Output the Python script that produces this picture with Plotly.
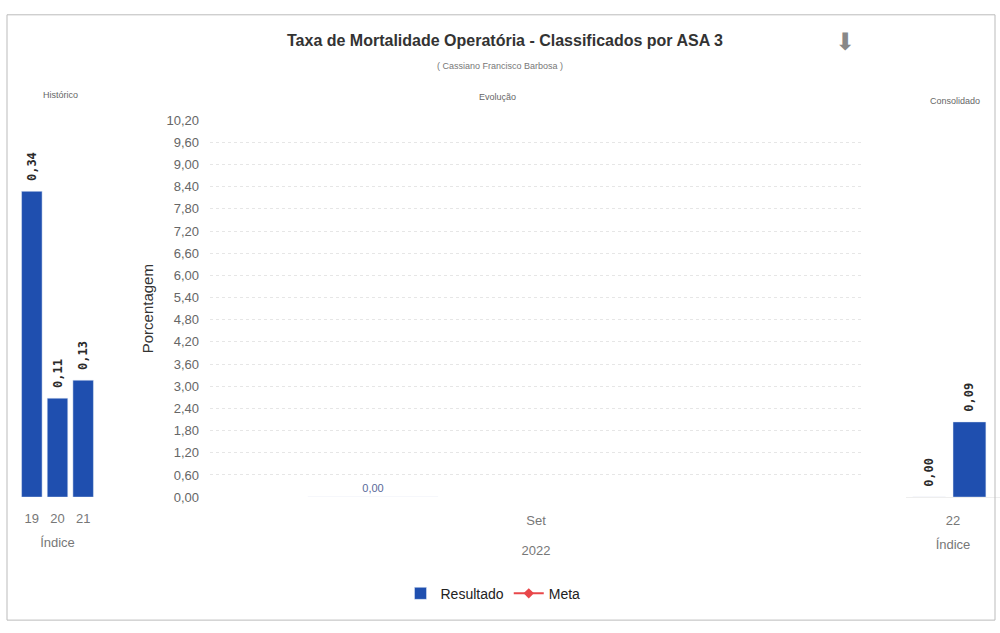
import plotly.graph_objects as go

# ---- data ----
hist_idx = ["19", "20", "21"]
hist_vals = [0.34, 0.11, 0.13]

evol_month = ["Set"]
evol_result = [0.00]
evol_meta = [None]

cons_idx = ["22"]
cons_first = [0.00]
cons_second = [0.09]

yticks = [round(0.6 * i, 2) for i in range(18)]

BLUE = "#1f4faf"
RED = "#e8474a"
GREY = "#777777"
NARROW = "Liberation Sans Narrow, Liberation Sans, Arial"
LABELF = dict(family="DejaVu Sans Mono", size=12, color="#2a2a2a")
LABEL_TPL = "\u00a0<b>%{y:.2f}</b>"

H = 633
TOP = 0

def py(p):
    return 1 - (p - TOP) / H

fig = go.Figure()

# Histórico
fig.add_trace(go.Bar(
    x=hist_idx, y=hist_vals, xaxis="x", yaxis="y", marker_color=BLUE,
    width=0.8, texttemplate=LABEL_TPL, textposition="outside",
    textangle=-90, textfont=LABELF, constraintext="none", cliponaxis=False,
    showlegend=False, hoverinfo="skip"))

# Evolução
fig.add_trace(go.Bar(
    x=evol_month, y=evol_result, xaxis="x2", yaxis="y2", marker_color=BLUE,
    name="Resultado", offset=-0.35, width=0.2, texttemplate="%{y:.2f}",
    textposition="outside", textfont=dict(family=NARROW, size=11, color="#5a6a9a"),
    constraintext="none", cliponaxis=False))
fig.add_trace(go.Scatter(
    x=evol_month, y=evol_meta, xaxis="x2", yaxis="y2", name="Meta",
    mode="lines+markers", line=dict(color=RED, width=2),
    marker=dict(color=RED, symbol="diamond", size=8)))

# Consolidado
fig.add_trace(go.Bar(
    x=cons_idx, y=cons_first, xaxis="x3", yaxis="y3", marker_color=BLUE,
    offset=-0.43, width=0.35, texttemplate=LABEL_TPL, textposition="outside",
    textangle=-90, textfont=LABELF, constraintext="none", cliponaxis=False,
    showlegend=False, hoverinfo="skip"))
fig.add_trace(go.Bar(
    x=cons_idx, y=cons_second, xaxis="x3", yaxis="y3", marker_color=BLUE,
    offset=0.0, width=0.35, texttemplate=LABEL_TPL, textposition="outside",
    textangle=-90, textfont=LABELF, constraintext="none", cliponaxis=False,
    showlegend=False, hoverinfo="skip"))

ydom = [py(502), py(116)]
tickfont = dict(family=NARROW, size=13, color=GREY)

def note(text, x, y, size, color, family=NARROW):
    return dict(text=text, x=x, y=py(y), xref="paper", yref="paper",
                xanchor="center", yanchor="middle", showarrow=False,
                font=dict(family=family, size=size, color=color))

fig.update_layout(
    width=1000, height=H,
    margin=dict(l=0, r=0, t=0, b=0),
    paper_bgcolor="white", plot_bgcolor="white",
    separators=",.",
    font=dict(family=NARROW, color=GREY),
    barmode="group",
    xaxis=dict(domain=[0.019, 0.096], type="category", showgrid=False,
               showline=False, zeroline=False, tickfont=tickfont,
               ticklabelstandoff=12,
               title=dict(text="Índice", font=tickfont, standoff=12)),
    yaxis=dict(domain=ydom, range=[0, 0.419], visible=False),
    xaxis2=dict(domain=[0.21, 0.862], type="category", showgrid=False,
                showline=False, tickfont=dict(family=NARROW, size=13, color=GREY),
                ticklabelstandoff=14,
                title=dict(text="2022", font=dict(family=NARROW, size=13, color=GREY),
                           standoff=18)),
    yaxis2=dict(domain=ydom, range=[0, 10.2], anchor="x2", tickvals=yticks,
                tickformat=".2f", showgrid=True, gridcolor="#e6e6e6",
                griddash="3px,3px", zeroline=False, showline=False,
                tickfont=dict(family=NARROW, size=13, color="#666"),
                ticklabelstandoff=10,
                title=dict(text="Porcentagem", font=dict(family=NARROW, size=15, color="#333"),
                           standoff=9)),
    xaxis3=dict(domain=[0.906, 1.0], type="category", anchor="y3", showgrid=False,
                showline=True, linecolor="#eeeeee", tickfont=tickfont,
                ticklabelstandoff=11,
                title=dict(text="Índice", font=tickfont, standoff=13)),
    yaxis3=dict(domain=ydom, range=[0, 0.451], anchor="x3", visible=False),
    legend=dict(orientation="h", x=0.493, xanchor="center", y=py(601), yanchor="middle",
                font=dict(family=NARROW, size=14, color="#222"), itemwidth=30,
                tracegroupgap=0),
    shapes=[dict(type="rect", xref="paper", yref="paper", x0=0.007, x1=0.995,
                 y0=py(628), y1=py(8), line=dict(color="#bbbbbb", width=1))],
    annotations=[
        note("<b>Taxa de Mortalidade Operatória - Classificados por ASA 3</b>",
             0.505, 34, 16, "#333"),
        note("( Cassiano Francisco Barbosa )", 0.5, 60, 9, GREY),
        note("Histórico", 0.06, 90, 9, "#666"),
        note("Evolução", 0.497, 92, 9, "#666"),
        note("Consolidado", 0.955, 96, 9, "#666"),
        note("⬇", 0.845, 36, 24, "#888", family="DejaVu Sans"),
    ],
)

fig.write_html("out.html", config=dict(displayModeBar=False),
               post_script="document.body.style.margin='0';document.body.style.overflow='hidden';")
